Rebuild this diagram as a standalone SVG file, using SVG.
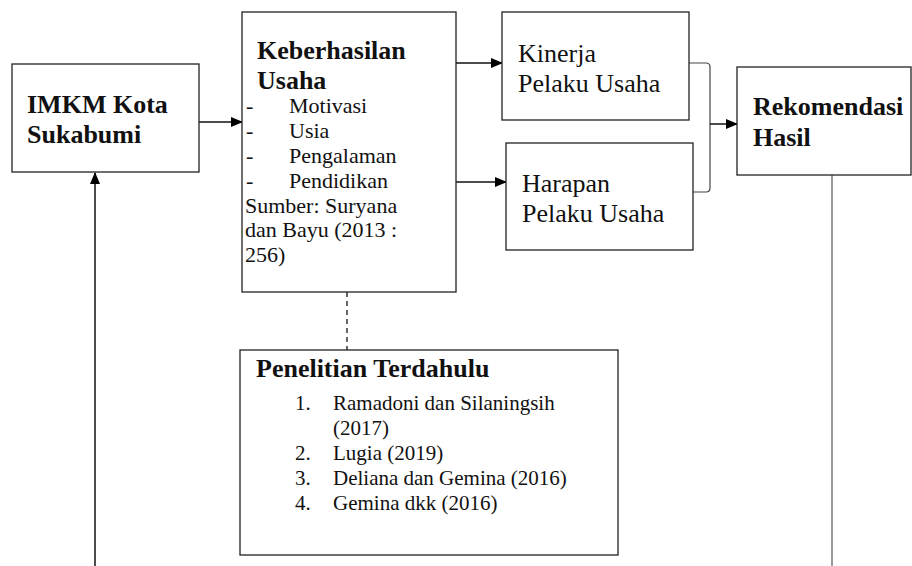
<svg xmlns="http://www.w3.org/2000/svg" width="912" height="566" viewBox="0 0 912 566">
<style>
.box{fill:#fff;stroke:#222;stroke-width:1.3}
.b{font-family:"Liberation Serif","Times New Roman",serif;font-weight:bold;font-size:26px;fill:#111}
.r{font-family:"Liberation Serif","Times New Roman",serif;font-size:22px;fill:#111}
.r26{font-family:"Liberation Serif","Times New Roman",serif;font-size:26px;fill:#111}
.ln{stroke:#111;stroke-width:1.5;fill:none}
</style>
<defs>
<marker id="ah" markerWidth="12" markerHeight="10" refX="11" refY="5" orient="auto" markerUnits="userSpaceOnUse">
<path d="M0,0 L12,5 L0,10 Z" fill="#000"/>
</marker>
</defs>
<rect width="912" height="566" fill="#fff"/>
<g id="connectors">
<line class="ln" x1="199" y1="122" x2="242" y2="122" marker-end="url(#ah)"/>
<line class="ln" x1="456" y1="63" x2="502" y2="63" marker-end="url(#ah)"/>
<line class="ln" x1="456" y1="182" x2="506" y2="182" marker-end="url(#ah)"/>
<path d="M689,63 L706,63 Q710,63 710,67 L710,188 Q710,192 706,192 L692,192" fill="none" stroke="#444" stroke-width="1.2"/>
<line class="ln" x1="710" y1="124" x2="737" y2="124" marker-end="url(#ah)"/>
<line class="ln" x1="95" y1="566" x2="95" y2="173" marker-end="url(#ah)"/>
<line x1="832" y1="175" x2="832" y2="566" stroke="#777" stroke-width="1.5"/>
<line x1="347" y1="292" x2="347" y2="350" stroke="#333" stroke-width="1.5" stroke-dasharray="5,4"/>
</g>
<g id="imkm">
<rect class="box" x="12" y="64" width="187" height="108"/>
<text class="b" x="27" y="113">IMKM Kota</text>
<text class="b" x="27" y="143">Sukabumi</text>
</g>
<g id="keberhasilan">
<rect class="box" x="242" y="12" width="214" height="280"/>
<text class="b" x="257" y="59">Keberhasilan</text>
<text class="b" x="257" y="89">Usaha</text>
<text class="r" x="246" y="113">-</text><text class="r" x="289" y="113">Motivasi</text>
<text class="r" x="246" y="138">-</text><text class="r" x="289" y="138">Usia</text>
<text class="r" x="246" y="163">-</text><text class="r" x="289" y="163">Pengalaman</text>
<text class="r" x="246" y="188">-</text><text class="r" x="289" y="188">Pendidikan</text>
<text class="r" x="245" y="213">Sumber: Suryana</text>
<text class="r" x="245" y="237">dan Bayu (2013 :</text>
<text class="r" x="245" y="262">256)</text>
</g>
<g id="kinerja">
<rect class="box" x="502" y="12" width="187" height="108"/>
<text class="r26" x="518" y="62">Kinerja</text>
<text class="r26" x="518" y="92">Pelaku Usaha</text>
</g>
<g id="harapan">
<rect class="box" x="506" y="143" width="187" height="107"/>
<text class="r26" x="522" y="192">Harapan</text>
<text class="r26" x="522" y="222">Pelaku Usaha</text>
</g>
<g id="rekomendasi">
<rect class="box" x="737" y="67" width="174" height="108"/>
<text class="b" x="753" y="115">Rekomendasi</text>
<text class="b" x="753" y="146">Hasil</text>
</g>
<g id="penelitian">
<rect class="box" x="240" y="350" width="378" height="205"/>
<text class="b" x="256" y="377">Penelitian Terdahulu</text>
<text class="r" x="295" y="410" style="font-size:21px">1.</text><text class="r" x="333" y="410" style="font-size:21px">Ramadoni dan Silaningsih</text>
<text class="r" x="333" y="435" style="font-size:21px">(2017)</text>
<text class="r" x="295" y="460" style="font-size:21px">2.</text><text class="r" x="333" y="460" style="font-size:21px">Lugia (2019)</text>
<text class="r" x="295" y="485" style="font-size:21px">3.</text><text class="r" x="333" y="485" style="font-size:21px">Deliana dan Gemina (2016)</text>
<text class="r" x="295" y="510" style="font-size:21px">4.</text><text class="r" x="333" y="510" style="font-size:21px">Gemina dkk (2016)</text>
</g>
</svg>
